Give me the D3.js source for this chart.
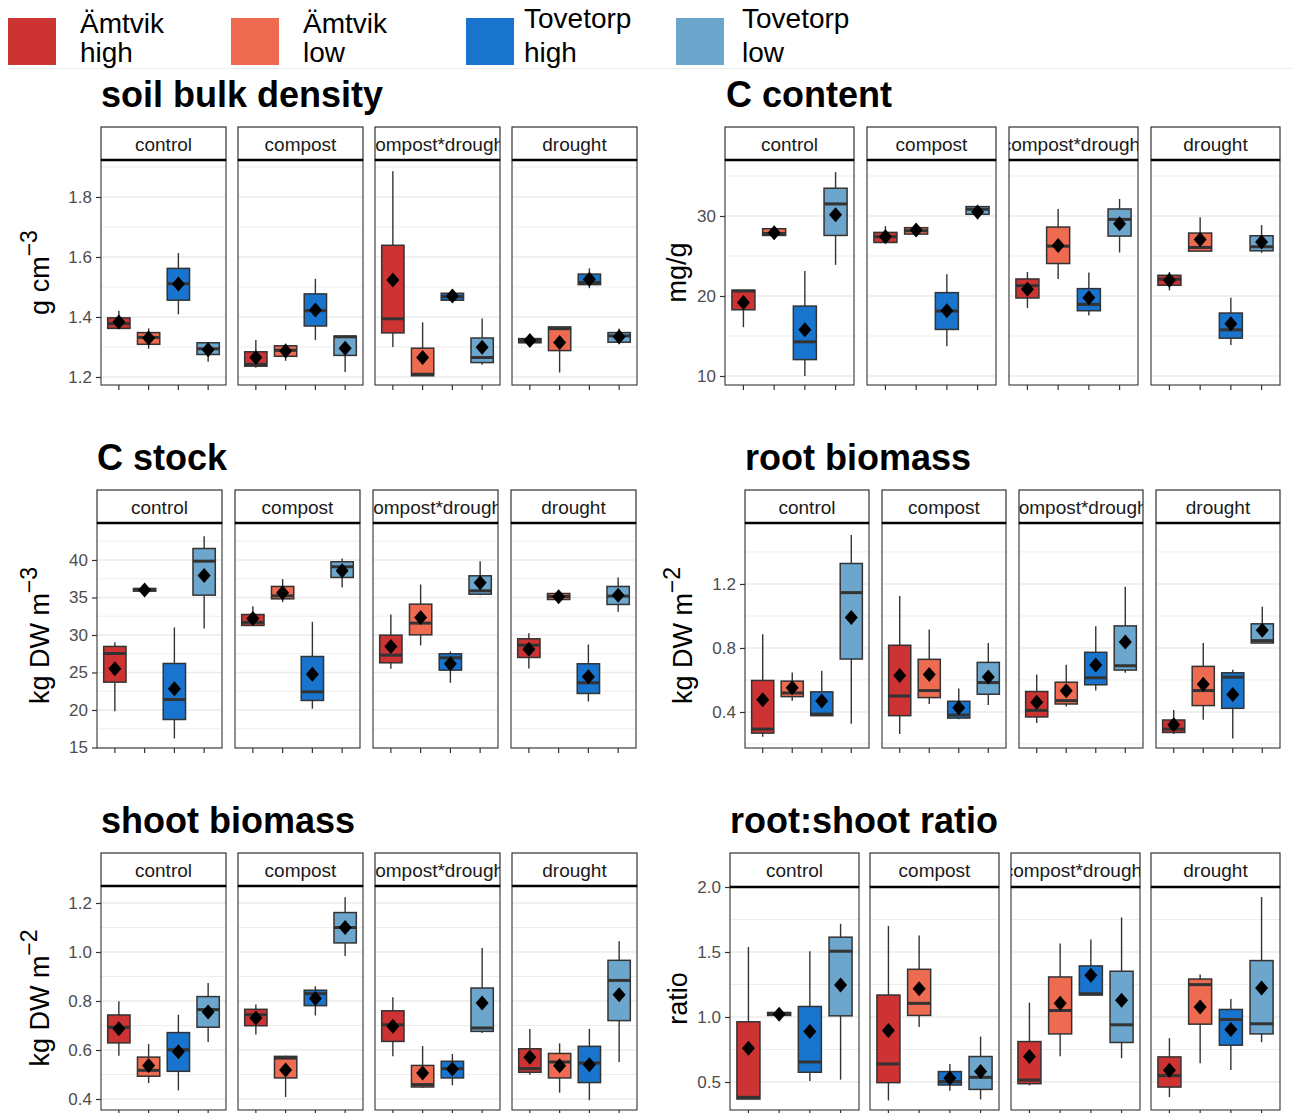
<!DOCTYPE html>
<html>
<head>
<meta charset="utf-8">
<script src="https://cdn.jsdelivr.net/npm/d3@7"></script>
<style>
  html, body { margin: 0; padding: 0; background: #ffffff; }
  svg { display: block; font-family: "Liberation Sans", Arial, sans-serif; }
</style>
</head>
<body>
<svg id="chart" width="1296" height="1113"></svg>
<script>
// Facet (treatment) and fill (site x level) categories
const treatments = ["control", "compost", "compost*drought", "drought"];
const groups = ["Ämtvik high", "Ämtvik low", "Tovetorp high", "Tovetorp low"];
const groupColors = ["#CD3333", "#EE6A50", "#1874CD", "#6CA6CD"];

// Box statistics, one row per treatment x group (treatment-major order):
// [lower whisker, Q1, median, Q3, upper whisker, mean]
const bulkDensity = [
  [1.365, 1.362, 1.378, 1.397, 1.421, 1.383],
  [1.294, 1.309, 1.332, 1.348, 1.362, 1.330],
  [1.409, 1.456, 1.511, 1.562, 1.613, 1.510],
  [1.251, 1.275, 1.294, 1.314, 1.316, 1.291],
  [1.231, 1.236, 1.242, 1.284, 1.323, 1.265],
  [1.254, 1.269, 1.289, 1.304, 1.311, 1.287],
  [1.323, 1.370, 1.421, 1.477, 1.527, 1.423],
  [1.217, 1.272, 1.334, 1.336, 1.339, 1.296],
  [1.300, 1.347, 1.394, 1.639, 1.886, 1.523],
  [1.204, 1.204, 1.209, 1.296, 1.382, 1.265],
  [1.456, 1.456, 1.468, 1.479, 1.490, 1.470],
  [1.241, 1.248, 1.265, 1.330, 1.395, 1.299],
  [1.306, 1.314, 1.322, 1.328, 1.334, 1.322],
  [1.215, 1.288, 1.361, 1.367, 1.367, 1.315],
  [1.496, 1.508, 1.515, 1.543, 1.562, 1.526],
  [1.309, 1.316, 1.337, 1.348, 1.362, 1.334]
];
const carbonContent = [
  [16.10, 18.28, 20.63, 20.71, 20.71, 19.20],
  [27.49, 27.57, 27.82, 28.41, 28.66, 27.90],
  [10.00, 12.05, 14.27, 18.74, 23.14, 15.77],
  [23.89, 27.57, 31.51, 33.47, 35.48, 30.17],
  [26.69, 26.69, 27.41, 27.95, 28.74, 27.40],
  [27.62, 27.74, 28.16, 28.54, 28.95, 28.24],
  [13.72, 15.82, 18.12, 20.42, 22.72, 18.16],
  [29.58, 30.21, 30.84, 31.17, 31.26, 30.50],
  [18.49, 19.75, 21.30, 22.13, 23.01, 20.84],
  [22.13, 24.06, 26.23, 28.62, 30.88, 26.32],
  [17.57, 18.16, 18.95, 20.92, 22.93, 19.79],
  [25.44, 27.49, 29.58, 30.88, 32.13, 29.04],
  [20.71, 21.34, 22.10, 22.59, 23.00, 21.97],
  [25.61, 25.61, 26.07, 27.87, 29.83, 27.07],
  [13.89, 14.73, 15.77, 17.87, 19.79, 16.53],
  [25.40, 25.65, 26.15, 27.53, 28.87, 26.74]
];
const carbonStock = [
  [19.84, 23.71, 27.53, 28.47, 29.04, 25.49],
  [35.62, 35.84, 36.07, 36.20, 36.42, 36.00],
  [16.20, 18.73, 21.40, 26.20, 31.00, 22.82],
  [30.87, 35.31, 39.84, 41.53, 43.18, 37.93],
  [31.27, 31.27, 31.67, 32.73, 33.84, 32.20],
  [34.38, 34.82, 35.22, 36.47, 37.44, 35.62],
  [20.16, 21.27, 22.42, 27.13, 31.76, 24.78],
  [36.33, 37.67, 39.09, 39.76, 40.20, 38.56],
  [25.49, 26.29, 27.31, 29.98, 32.73, 28.47],
  [28.60, 30.02, 31.58, 34.11, 36.73, 32.33],
  [23.62, 25.31, 26.96, 27.49, 27.80, 26.16],
  [35.31, 35.44, 35.89, 37.89, 39.84, 36.96],
  [25.53, 27.00, 28.64, 29.49, 30.24, 28.11],
  [34.73, 34.73, 35.13, 35.53, 35.53, 35.09],
  [21.13, 22.20, 23.62, 26.16, 28.73, 24.42],
  [33.09, 34.07, 35.18, 36.47, 37.67, 35.31]
];
const rootBiomass = [
  [0.245, 0.268, 0.293, 0.597, 0.886, 0.477],
  [0.471, 0.496, 0.519, 0.593, 0.647, 0.551],
  [0.377, 0.377, 0.387, 0.526, 0.658, 0.469],
  [0.327, 0.731, 1.146, 1.328, 1.506, 0.990],
  [0.262, 0.377, 0.500, 0.817, 1.125, 0.628],
  [0.450, 0.490, 0.534, 0.729, 0.915, 0.635],
  [0.354, 0.362, 0.381, 0.467, 0.547, 0.427],
  [0.444, 0.511, 0.584, 0.710, 0.831, 0.618],
  [0.331, 0.369, 0.410, 0.528, 0.635, 0.461],
  [0.434, 0.450, 0.471, 0.586, 0.695, 0.532],
  [0.534, 0.570, 0.614, 0.773, 0.936, 0.693],
  [0.645, 0.662, 0.689, 0.938, 1.183, 0.838],
  [0.262, 0.272, 0.293, 0.350, 0.413, 0.320],
  [0.352, 0.440, 0.534, 0.685, 0.831, 0.574],
  [0.235, 0.423, 0.618, 0.645, 0.664, 0.509],
  [0.831, 0.831, 0.846, 0.951, 1.058, 0.911]
];
const shootBiomass = [
  [0.577, 0.629, 0.693, 0.743, 0.799, 0.687],
  [0.465, 0.493, 0.517, 0.571, 0.624, 0.537],
  [0.435, 0.513, 0.601, 0.671, 0.744, 0.593],
  [0.633, 0.693, 0.765, 0.818, 0.873, 0.755],
  [0.663, 0.699, 0.744, 0.766, 0.786, 0.731],
  [0.408, 0.486, 0.567, 0.574, 0.577, 0.518],
  [0.741, 0.781, 0.830, 0.844, 0.860, 0.810],
  [0.984, 1.037, 1.100, 1.161, 1.223, 1.100],
  [0.574, 0.635, 0.703, 0.760, 0.815, 0.697],
  [0.445, 0.449, 0.459, 0.537, 0.616, 0.506],
  [0.456, 0.486, 0.524, 0.554, 0.584, 0.522],
  [0.669, 0.676, 0.690, 0.853, 1.016, 0.792],
  [0.499, 0.509, 0.524, 0.605, 0.686, 0.570],
  [0.426, 0.486, 0.551, 0.586, 0.627, 0.536],
  [0.395, 0.467, 0.547, 0.615, 0.686, 0.540],
  [0.551, 0.720, 0.884, 0.966, 1.044, 0.826]
];
const rootShootRatio = [
  [0.369, 0.369, 0.382, 0.963, 1.539, 0.760],
  [1.012, 1.012, 1.022, 1.035, 1.035, 1.022],
  [0.508, 0.575, 0.654, 1.081, 1.506, 0.888],
  [0.518, 1.009, 1.506, 1.614, 1.717, 1.246],
  [0.358, 0.495, 0.639, 1.169, 1.701, 0.896],
  [0.924, 1.012, 1.105, 1.367, 1.627, 1.218],
  [0.433, 0.477, 0.503, 0.580, 0.639, 0.531],
  [0.366, 0.443, 0.536, 0.696, 0.850, 0.580],
  [0.474, 0.487, 0.515, 0.811, 1.110, 0.696],
  [0.698, 0.870, 1.050, 1.308, 1.565, 1.105],
  [1.169, 1.169, 1.179, 1.393, 1.596, 1.321],
  [0.683, 0.804, 0.940, 1.352, 1.766, 1.128],
  [0.384, 0.461, 0.549, 0.693, 0.837, 0.590],
  [0.644, 0.945, 1.249, 1.292, 1.326, 1.076],
  [0.593, 0.783, 0.981, 1.058, 1.138, 0.904],
  [0.806, 0.870, 0.948, 1.434, 1.923, 1.223]
];

// Axis ticks per variable
const bulkTicks = [1.2, 1.4, 1.6, 1.8];
const contentTicks = [10, 20, 30];
const stockTicks = [15, 20, 25, 30, 35, 40];
const rootTicks = [0.4, 0.8, 1.2];
const shootTicks = [0.4, 0.6, 0.8, 1.0, 1.2];
const ratioTicks = [0.5, 1.0, 1.5, 2.0];

// Panel layout: facet positions, vertical extent and y-domain
const panels = [
  { title: "soil bulk density", ylab: "g cm", sup: "\u22123", data: bulkDensity, ticks: bulkTicks,
    fmt: d3.format(".1f"), domain: [1.1733, 1.9233], left: [101, 238, 375, 512], w: 125,
    stripTop: 127, top: 160, bottom: 385, titleX: 101, titleY: 107, ylabX: 49 },
  { title: "C content", ylab: "mg/g", sup: null, data: carbonContent, ticks: contentTicks,
    fmt: d3.format("d"), domain: [8.875, 37], left: [725, 867, 1009, 1151], w: 129,
    stripTop: 127, top: 160, bottom: 385, titleX: 726, titleY: 107, ylabX: 686 },
  { title: "C stock", ylab: "kg DW m", sup: "\u22123", data: carbonStock, ticks: stockTicks,
    fmt: d3.format("d"), domain: [14.93, 44.93], left: [97, 235, 373, 511], w: 125,
    stripTop: 490, top: 523, bottom: 748, titleX: 97, titleY: 470, ylabX: 49 },
  { title: "root biomass", ylab: "kg DW m", sup: "\u22122", data: rootBiomass, ticks: rootTicks,
    fmt: d3.format(".1f"), domain: [0.175, 1.581], left: [745, 882, 1019, 1156], w: 124,
    stripTop: 490, top: 523, bottom: 748, titleX: 745, titleY: 470, ylabX: 692 },
  { title: "shoot biomass", ylab: "kg DW m", sup: "\u22122", data: shootBiomass, ticks: shootTicks,
    fmt: d3.format(".1f"), domain: [0.3551, 1.2694], left: [101, 238, 375, 512], w: 125,
    stripTop: 853, top: 886, bottom: 1110, titleX: 101, titleY: 833, ylabX: 49 },
  { title: "root:shoot ratio", ylab: "ratio", sup: null, data: rootShootRatio, ticks: ratioTicks,
    fmt: d3.format(".1f"), domain: [0.2846, 2.0], left: [730, 870, 1011, 1151], w: 129,
    stripTop: 853, top: 887, bottom: 1110, titleX: 730, titleY: 833, ylabX: 687 }
];

const svg = d3.select("#chart");
const GRID = "#ebebeb";
const INK = "#333333";

// ---- legend ----
const legendX = [8, 231, 466, 676];
const legendTextX = [80, 303, 524, 742];
const legendLine1Y = [33, 33, 28, 28];
const legend = svg.append("g");
groups.forEach((g, i) => {
  legend.append("rect")
    .attr("x", legendX[i]).attr("y", 18).attr("width", 48).attr("height", 47)
    .attr("fill", groupColors[i]);
  const parts = g.split(" ");
  legend.append("text").attr("x", legendTextX[i]).attr("y", legendLine1Y[i])
    .attr("font-size", 28).attr("fill", "#000").text(parts[0]);
  legend.append("text").attr("x", legendTextX[i]).attr("y", 62)
    .attr("font-size", 28).attr("fill", "#000").text(parts[1]);
});
legend.append("line").attr("x1", 8).attr("x2", 1292).attr("y1", 68.5).attr("y2", 68.5)
  .attr("stroke", "#ededed").attr("stroke-width", 1);

// ---- panels ----
panels.forEach((p, pi) => {
  const g = svg.append("g");
  const y = d3.scaleLinear().domain(p.domain).range([p.bottom, p.top]);

  // minor grid positions: midpoints between major ticks, extended over the domain
  const step = p.ticks[1] - p.ticks[0];
  const minor = [];
  for (let v = p.ticks[0] - step * 1.5; v <= p.domain[1] + 1e-9; v += step) {
    if (v >= p.domain[0] && v <= p.domain[1]) minor.push(+v.toFixed(6));
  }

  // title
  g.append("text").attr("x", p.titleX).attr("y", p.titleY)
    .attr("font-size", 36).attr("font-weight", "bold").attr("fill", "#000")
    .text(p.title);

  // y-axis title
  const midY = (p.top + p.bottom) / 2;
  const yl = g.append("text")
    .attr("transform", `translate(${p.ylabX},${midY}) rotate(-90)`)
    .attr("text-anchor", "middle").attr("font-size", 27).attr("fill", "#000");
  yl.append("tspan").text(p.ylab);
  if (p.sup) {
    yl.append("tspan").attr("dy", -12).attr("font-size", 23).text(p.sup);
  }

  treatments.forEach((t, fi) => {
    const x0 = p.left[fi];
    // discrete expansion of 0.6 units on each side of 4 categories
    const unit = p.w / 4.2;
    const cx = i => x0 + (0.6 + i) * unit;
    const bw = 0.75 * unit;
    const fg = g.append("g");

    // grid
    fg.selectAll(".minor").data(minor).join("line")
      .attr("x1", x0).attr("x2", x0 + p.w)
      .attr("y1", d => y(d)).attr("y2", d => y(d))
      .attr("stroke", GRID).attr("stroke-width", 0.9);
    fg.selectAll(".major").data(p.ticks).join("line")
      .attr("x1", x0).attr("x2", x0 + p.w)
      .attr("y1", d => y(d)).attr("y2", d => y(d))
      .attr("stroke", GRID).attr("stroke-width", 1.6);

    // boxes
    groups.forEach((grp, gi) => {
      const [lo, q1, med, q3, hi, mean] = p.data[fi * 4 + gi];
      const c = cx(gi);
      fg.append("line").attr("x1", c).attr("x2", c).attr("y1", y(q3)).attr("y2", y(hi))
        .attr("stroke", INK).attr("stroke-width", 1.4);
      fg.append("line").attr("x1", c).attr("x2", c).attr("y1", y(q1)).attr("y2", y(lo))
        .attr("stroke", INK).attr("stroke-width", 1.4);
      fg.append("rect")
        .attr("x", c - bw / 2).attr("width", bw)
        .attr("y", y(q3)).attr("height", Math.max(0.5, y(q1) - y(q3)))
        .attr("fill", groupColors[gi]).attr("stroke", INK).attr("stroke-width", 1.5);
      fg.append("line").attr("x1", c - bw / 2).attr("x2", c + bw / 2)
        .attr("y1", y(med)).attr("y2", y(med))
        .attr("stroke", INK).attr("stroke-width", 3);
      const my = y(mean);
      fg.append("path")
        .attr("d", `M${c},${my - 7.5}L${c + 6.5},${my}L${c},${my + 7.5}L${c - 6.5},${my}Z`)
        .attr("fill", "#000");
      // x tick
      fg.append("line").attr("x1", c).attr("x2", c).attr("y1", p.bottom).attr("y2", p.bottom + 5)
        .attr("stroke", INK).attr("stroke-width", 1.2);
    });

    // panel border
    fg.append("rect").attr("x", x0).attr("y", p.top).attr("width", p.w).attr("height", p.bottom - p.top)
      .attr("fill", "none").attr("stroke", INK).attr("stroke-width", 1.1);

    // strip
    const clipId = `clip-${pi}-${fi}`;
    svg.append("clipPath").attr("id", clipId).append("rect")
      .attr("x", x0).attr("y", p.stripTop).attr("width", p.w).attr("height", p.top - p.stripTop);
    fg.append("rect").attr("x", x0).attr("y", p.stripTop).attr("width", p.w).attr("height", p.top - p.stripTop)
      .attr("fill", "#fff").attr("stroke", INK).attr("stroke-width", 1.2);
    fg.append("text").attr("clip-path", `url(#${clipId})`)
      .attr("x", x0 + p.w / 2).attr("y", (p.stripTop + p.top) / 2 + 7)
      .attr("text-anchor", "middle").attr("font-size", 19).attr("fill", "#1a1a1a")
      .text(t);
    fg.append("line").attr("x1", x0).attr("x2", x0 + p.w).attr("y1", p.top).attr("y2", p.top)
      .attr("stroke", "#000").attr("stroke-width", 2.4);

    // y axis on the first facet
    if (fi === 0) {
      const axis = d3.axisLeft(y).tickValues(p.ticks).tickFormat(p.fmt).tickSize(5).tickPadding(4);
      const ag = g.append("g").attr("transform", `translate(${x0},0)`).call(axis);
      ag.select(".domain").remove();
      ag.selectAll(".tick line").attr("stroke", INK).attr("stroke-width", 1.2);
      ag.selectAll(".tick text").attr("fill", "#4d4d4d").attr("font-size", 17)
        .attr("font-family", "Liberation Sans, Arial, sans-serif");
    }
  });
});
</script>
</body>
</html>
